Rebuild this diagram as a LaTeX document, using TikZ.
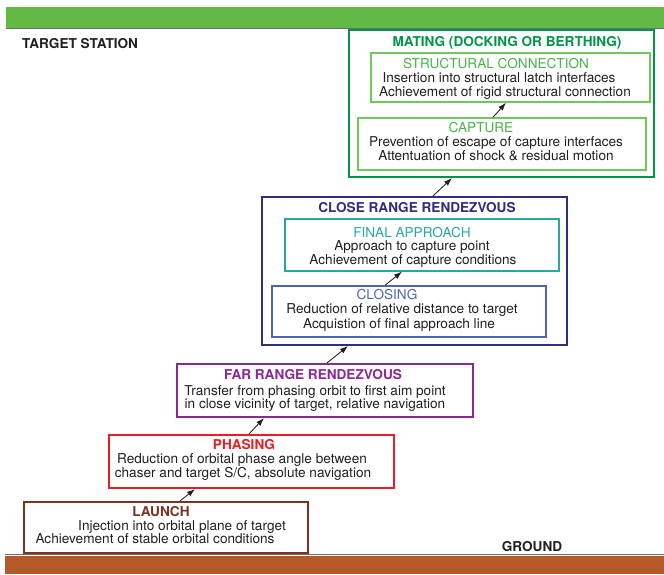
\documentclass[tikz,border=0pt]{standalone}
\usepackage{fontspec}
\setmainfont{TeX Gyre Heros}
\usetikzlibrary{arrows,arrows.meta}
\usetikzlibrary{shapes}
\definecolor{TxtGray}{RGB}{35,31,32}
\definecolor{SkyGreen}{RGB}{98,185,70}
\definecolor{SoilBrown}{RGB}{180,90,40}
\definecolor{LineGray}{RGB}{110,110,110}
\definecolor{MatGreen}{RGB}{0,150,72}
\definecolor{LightGreen}{RGB}{110,200,90}
\definecolor{HeadGreen}{RGB}{70,180,70}
\definecolor{Navy}{RGB}{45,45,130}
\definecolor{Teal}{RGB}{40,168,158}
\definecolor{MidBlue}{RGB}{80,100,180}
\definecolor{Purple}{RGB}{140,40,150}
\definecolor{PhRed}{RGB}{237,28,36}
\definecolor{DarkBrown}{RGB}{125,50,30}

\begin{document}
\begin{tikzpicture}[x = 1pt, y = -1pt]
\tikzstyle{BoxStyle}=[shape = rectangle, inner sep = 0pt, fill = white, line width = 1.4pt]
\tikzstyle{StageStyle}=[BoxStyle, line width = 2.2pt]
\tikzstyle{TextStyle}=[inner sep = 0pt, text height = 9.8pt, text depth = 0pt,
                       text = TxtGray, font = \fontsize{13.6}{15}\selectfont]
\tikzstyle{HeadStyle}=[TextStyle, font = \fontsize{13.6}{15}\selectfont\bfseries]
\tikzstyle{ArrowStyle}=[-{Latex[length = 8pt, width = 5.5pt]}, line width = 0.8pt, draw = TxtGray, fill = TxtGray]
\useasboundingbox (0,0) rectangle (664,574);
% sky and ground
\fill[SkyGreen] (6,7) rectangle (664,28);
\draw[LineGray, line width = 1pt] (6,28.5) -- (664,28.5);
\fill[SoilBrown] (5,556) rectangle (664,574);
\draw[LineGray, line width = 1pt] (5,554.5) -- (664,554.5);
\node[HeadStyle, anchor = west] (target) at (22,43.5) {TARGET STATION};
\node[HeadStyle] (ground) at (532,546.5) {GROUND};
% boxes
\node[StageStyle, draw = MatGreen, minimum width = 305pt, minimum height = 147pt] (mating) at (501.5,103.5) {};
\node[BoxStyle, draw = LightGreen, minimum width = 279pt, minimum height = 49pt] (struct) at (510.5,77.5) {};
\node[BoxStyle, draw = LightGreen, minimum width = 288pt, minimum height = 52pt] (capture) at (502,144) {};
\node[StageStyle, draw = Navy, minimum width = 305pt, minimum height = 148pt] (close) at (414.5,271) {};
\node[BoxStyle, draw = Teal, minimum width = 274pt, minimum height = 52pt] (final) at (422,245) {};
\node[BoxStyle, draw = MidBlue, minimum width = 274pt, minimum height = 51pt] (closing) at (409,311.5) {};
\node[StageStyle, draw = Purple, minimum width = 296pt, minimum height = 53pt] (far) at (325,390.5) {};
\node[StageStyle, draw = PhRed, minimum width = 285pt, minimum height = 53pt] (phasing) at (251.5,461.5) {};
\node[StageStyle, draw = DarkBrown, minimum width = 284pt, minimum height = 51pt] (launch) at (166,527.5) {};
% texts
\node[HeadStyle, text = MatGreen] (matingT) at (507,41.5) {MATING (DOCKING OR BERTHING)};
\node[TextStyle, text = HeadGreen] (structT) at (496,63.5) {STRUCTURAL CONNECTION};
\node[TextStyle] (structA) at (499,77.5) {Insertion into structural latch interfaces};
\node[TextStyle] (structB) at (505,91.5) {Achievement of rigid structural connection};
\node[TextStyle, text = HeadGreen] (captureT) at (481,127.5) {CAPTURE};
\node[TextStyle] (captureA) at (496,141.5) {Prevention of escape of capture interfaces};
\node[TextStyle] (captureB) at (496,155.5) {Attentuation of shock \& residual motion};
\node[HeadStyle, text = Navy] (closeT) at (417,207.5) {CLOSE RANGE RENDEZVOUS};
\node[TextStyle, text = Teal] (finalT) at (412,232.5) {FINAL APPROACH};
\node[TextStyle] (finalA) at (412,245.5) {Approach to capture point};
\node[TextStyle] (finalB) at (413,259.5) {Achievement of capture conditions};
\node[TextStyle, text = MidBlue] (closingT) at (387,294.5) {CLOSING};
\node[TextStyle] (closingA) at (402,308.5) {Reduction of relative distance to target};
\node[TextStyle] (closingB) at (399,323.5) {Acquistion of final approach line};
\node[HeadStyle, text = Purple] (farT) at (313,374.5) {FAR RANGE RENDEZVOUS};
\node[TextStyle] (farA) at (315,390.5) {Transfer from phasing orbit to first aim point};
\node[TextStyle] (farB) at (315,403.5) {in close vicinity of target, relative navigation};
\node[HeadStyle, text = PhRed] (phasingT) at (244,444.5) {PHASING};
\node[TextStyle] (phasingA) at (242,458.5) {Reduction of orbital phase angle between};
\node[TextStyle] (phasingB) at (243,472.5) {chaser and target S/C, absolute navigation};
\node[HeadStyle, text = DarkBrown] (launchT) at (161,511.5) {LAUNCH};
\node[TextStyle] (launchA) at (182,525.5) {Injection into orbital plane of target};
\node[TextStyle] (launchB) at (155,538.5) {Achievement of stable orbital conditions};
% arrows
\draw[ArrowStyle] ([xshift = -9pt]capture.north) -- ([xshift = -4.5pt]struct.south);
\draw[ArrowStyle] ([xshift = -24pt]closing.north) -- ([xshift = -20pt]final.south);
\draw[ArrowStyle] ([xshift = 18.5pt]close.north) -- ([xshift = -49.5pt]mating.south);
\draw[ArrowStyle] ([xshift = 2pt]far.north) -- ([xshift = -66.5pt]close.south);
\draw[ArrowStyle] ([xshift = -2.5pt]phasing.north) -- ([xshift = -61pt]far.south);
\draw[ArrowStyle] ([xshift = 14pt]launch.north) -- ([xshift = -56.5pt]phasing.south);
\end{tikzpicture}
\end{document}
